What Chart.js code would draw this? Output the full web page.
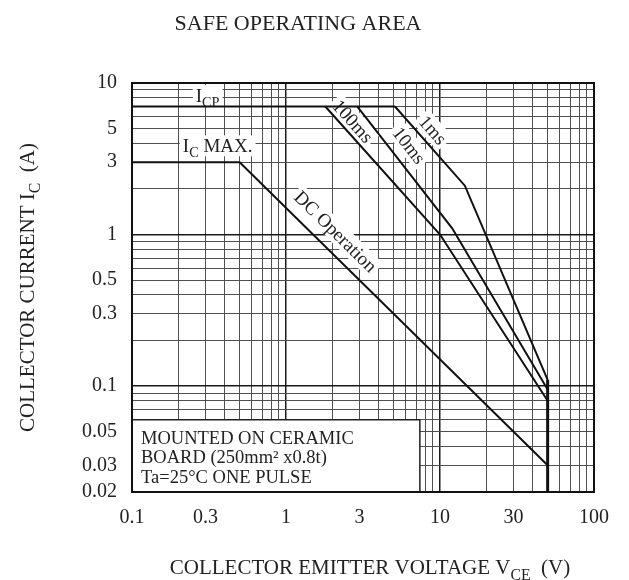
<!DOCTYPE html>
<html lang="en">
<head>
<meta charset="UTF-8" />
<title>Safe Operating Area</title>
<script src="https://cdn.jsdelivr.net/npm/chart.js"></script>
<style>
    body {
        margin: 0;
        background: #fff;
    }

    .wrap {
        width: 629px;
        height: 580px;
    }
</style>
</head>
<body>
<div class="wrap"><canvas id="soa" width="629" height="580"></canvas></div>

<script>
    // ===== Data (V in volts, I in amps) =====
    const xTickLabels = [0.1, 0.3, 1, 3, 10, 30, 100];
    const yTickLabels = [0.02, 0.03, 0.05, 0.1, 0.3, 0.5, 1, 3, 5, 10];

    const icpV = [0.1, 5.1];
    const icpI = [7, 7];
    const dcV = [0.1, 0.5, 50];
    const dcI = [3, 3, 0.03];
    const ms100V = [1.8, 10, 50];
    const ms100I = [7, 1.0, 0.08];
    const ms10V = [2.9, 12, 50];
    const ms10I = [7, 1.1, 0.095];
    const ms1V = [5.1, 14.5, 50];
    const ms1I = [7, 2.1, 0.11];
    const vceoV = [50, 50];
    const vceoI = [0.11, 0.02];

    const SERIF = '"Liberation Serif", "Times New Roman", serif';

    function pts(xs, ys) {
        return xs.map((v, i) => ({ x: v, y: ys[i] }));
    }

    // grid lines at 1..9 x 10^n
    function logGrid(min, max) {
        const out = [];
        for (let e = -3; e <= 3; e++) {
            for (let m = 1; m <= 9; m++) {
                const v = parseFloat((m * Math.pow(10, e)).toPrecision(3));
                if (v >= min - 1e-9 && v <= max + 1e-9) out.push(v);
            }
        }
        return out;
    }

    function isDecade(v) {
        const l = Math.log10(v);
        return Math.abs(l - Math.round(l)) < 1e-6;
    }

    function hasLabel(list, v) {
        return list.some(t => Math.abs(t - v) / t < 1e-6);
    }

    // text with subscripts: parts = [[text, isSub], ...]
    function richWidth(ctx, parts, size) {
        let w = 0;
        parts.forEach(p => {
            ctx.font = (p[1] ? size * 0.75 : size) + 'px ' + SERIF;
            w += ctx.measureText(p[0]).width;
        });
        return w;
    }

    function drawRich(ctx, parts, x, y, size, align) {
        const total = richWidth(ctx, parts, size);
        let cx = align === 'center' ? x - total / 2 : x;
        ctx.textAlign = 'left';
        ctx.textBaseline = 'alphabetic';
        parts.forEach(p => {
            ctx.font = (p[1] ? size * 0.75 : size) + 'px ' + SERIF;
            ctx.fillText(p[0], cx, p[1] ? y + size * 0.28 : y);
            cx += ctx.measureText(p[0]).width;
        });
    }

    function boxedLabel(ctx, parts, px, py, angle, size) {
        ctx.save();
        ctx.translate(px, py);
        ctx.rotate(angle);
        const w = richWidth(ctx, parts, size);
        ctx.fillStyle = '#fff';
        ctx.fillRect(-w / 2 - 3, -size * 0.55, w + 6, size * 1.1);
        ctx.fillStyle = '#222';
        drawRich(ctx, parts, 0, size * 0.33, size, 'center');
        ctx.restore();
    }

    // ===== Annotations =====
    const sheetPlugin = {
        id: 'sheet',
        beforeDatasetsDraw(chart) {
            const ctx = chart.ctx;
            const xs = chart.scales.x, ys = chart.scales.y;
            const X = v => xs.getPixelForValue(v);
            const Y = v => ys.getPixelForValue(v);
            const segAngle = (vx, iy, k) => Math.atan2(Y(iy[k + 1]) - Y(iy[k]), X(vx[k + 1]) - X(vx[k]));

            // note box
            const bl = X(0.1), br = X(7.4), bt = Y(0.06), bb = Y(0.02);
            ctx.save();
            ctx.fillStyle = '#fff';
            ctx.fillRect(bl, bt, br - bl, bb - bt);
            ctx.strokeStyle = '#222';
            ctx.lineWidth = 1.5;
            ctx.beginPath();
            ctx.moveTo(bl, bt);
            ctx.lineTo(br, bt);
            ctx.lineTo(br, bb);
            ctx.stroke();
            ctx.fillStyle = '#222';
            drawRich(ctx, [['MOUNTED ON CERAMIC', false]], bl + 9, bt + 24, 18.5, 'left');
            drawRich(ctx, [['BOARD (250mm\u00B2 x0.8t)', false]], bl + 9, bt + 43, 18.5, 'left');
            drawRich(ctx, [['Ta=25\u00B0C ONE PULSE', false]], bl + 9, bt + 63, 18.5, 'left');
            ctx.restore();

            boxedLabel(ctx, [['I', false], ['CP', true]], X(0.31), Y(8.3), 0, 19);
            boxedLabel(ctx, [['I', false], ['C', true], [' MAX.', false]], X(0.36), Y(3.85), 0, 19);
            boxedLabel(ctx, [['DC Operation', false]], X(2.1), Y(1.05), segAngle(dcV, dcI, 1), 19);
            boxedLabel(ctx, [['100ms', false]], X(2.72), Y(5.6), segAngle(ms100V, ms100I, 0), 19);
            boxedLabel(ctx, [['10ms', false]], X(6.3), Y(3.88), segAngle(ms10V, ms10I, 0), 19);
            boxedLabel(ctx, [['1ms', false]], X(9.0), Y(4.9), segAngle(ms1V, ms1I, 0), 19);
        },
        afterDraw(chart) {
            const ctx = chart.ctx;
            const a = chart.chartArea;
            ctx.save();
            ctx.strokeStyle = '#111';
            ctx.lineWidth = 2;
            ctx.strokeRect(a.left, a.top, a.right - a.left, a.bottom - a.top);

            ctx.fillStyle = '#222';
            drawRich(ctx, [['SAFE OPERATING AREA', false]], 298, 30, 22, 'center');
            drawRich(ctx, [['COLLECTOR EMITTER VOLTAGE V', false], ['CE', true], ['  (V)', false]],
                (a.left + a.right) / 2 + 7, 574, 21, 'center');

            ctx.translate(34, (a.top + a.bottom) / 2);
            ctx.rotate(-Math.PI / 2);
            drawRich(ctx, [['COLLECTOR CURRENT I', false], ['C', true], ['  (A)', false]], 0, 0, 21, 'center');
            ctx.restore();
        }
    };

    function lineSet(xs, ys, w) {
        return {
            data: pts(xs, ys),
            borderColor: '#111',
            borderWidth: w || 2,
            pointRadius: 0,
            tension: 0,
            fill: false
        };
    }

    function axisOpts(min, max, labels) {
        return {
            type: 'logarithmic',
            min: min,
            max: max,
            afterBuildTicks: s => {
                s.ticks = logGrid(min, max).map(v => ({ value: v }));
            },
            ticks: {
                autoSkip: false,
                maxRotation: 0,
                color: '#222',
                font: { family: SERIF, size: 20 },
                callback: v => hasLabel(labels, v) ? String(v) : ''
            },
            grid: {
                drawTicks: false,
                color: c => isDecade(c.tick.value) ? '#1a1a1a' : '#505050',
                lineWidth: c => isDecade(c.tick.value) ? 1.5 : 1
            },
            border: { display: true, color: '#111', width: 2 }
        };
    }

    const xAxis = axisOpts(0.1, 100, xTickLabels);
    xAxis.ticks.padding = 14;
    xAxis.afterFit = s => { s.height = 88; };

    const yAxis = axisOpts(0.02, 10, yTickLabels);
    yAxis.ticks.padding = 15;
    yAxis.afterFit = s => { s.width = 132; };

    new Chart(document.getElementById('soa'), {
        type: 'line',
        data: {
            datasets: [
                lineSet(icpV, icpI),
                lineSet(dcV, dcI),
                lineSet(ms100V, ms100I),
                lineSet(ms10V, ms10I),
                lineSet(ms1V, ms1I),
                lineSet(vceoV, vceoI, 3)
            ]
        },
        options: {
            responsive: false,
            animation: false,
            layout: { padding: { top: 83, right: 35, left: 0, bottom: 0 } },
            plugins: {
                legend: { display: false },
                tooltip: { enabled: false }
            },
            scales: { x: xAxis, y: yAxis }
        },
        plugins: [sheetPlugin]
    });
</script>
</body>
</html>
